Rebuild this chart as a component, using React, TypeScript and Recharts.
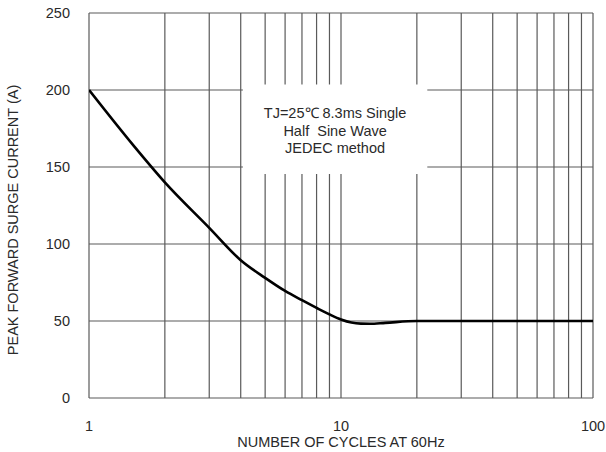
import { LineChart, Line, XAxis, YAxis, CartesianGrid, ReferenceArea, Label } from 'recharts';

// surge curve
const cycles = [1, 1.5, 2, 3, 4, 5, 6, 7, 8, 9, 10, 11, 12, 13, 15, 20, 30, 50, 100];
const current = [200, 164, 140, 110.5, 89.5, 78, 69.5, 63.5, 58.5, 54.3, 51, 49, 48.3, 48.2, 48.8, 50, 50, 50, 50];

const xGrid = [1, 2, 3, 4, 5, 6, 7, 8, 9, 10, 20, 30, 40, 50, 60, 70, 80, 90, 100];
const xLabels = [1, 10, 100];
const yTicks = [0, 50, 100, 150, 200, 250];

const noteLines = ['TJ=25\u2103 8.3ms Single', 'Half  Sine Wave', 'JEDEC method'];
// white box behind the note, in data units
const noteX = [4.08, 22];
const noteY = [145.5, 203.5];

const FONT = '"Liberation Sans", Arial, sans-serif';
const TEXT = '#2a2a2a';

const data = cycles.map((c, i) => ({ cycles: c, current: current[i] }));

function NoteLabel(props: any) {
  const vb = props.viewBox || {};
  const cx = vb.x + vb.width / 2;
  const cy = vb.y + vb.height / 2;
  const offs = [-16.5, 2, 19];
  return (
    <text textAnchor="middle" fontFamily={FONT} fontSize={14.5} fill={TEXT}>
      {noteLines.map((t, i) => (
        <tspan key={i} x={cx} y={cy + offs[i]} dominantBaseline="central" style={{ whiteSpace: 'pre' }}>
          {t}
        </tspan>
      ))}
    </text>
  );
}

function XTitle(props: any) {
  const vb = props.viewBox || {};
  return (
    <text x={vb.x + vb.width / 2} y={vb.y + 49} textAnchor="middle" fontFamily={FONT} fontSize={14.5} fill={TEXT}>
      NUMBER OF CYCLES AT 60Hz
    </text>
  );
}

function YTitle(props: any) {
  const vb = props.viewBox || {};
  const x = vb.x + 13.3;
  const y = vb.y + vb.height / 2 + 14.5;
  return (
    <text
      x={x}
      y={y}
      transform={`rotate(-90 ${x} ${y})`}
      textAnchor="middle"
      dominantBaseline="central"
      fontFamily={FONT}
      fontSize={14.5}
      fill={TEXT}
    >
      PEAK FORWARD SURGE CURRENT (A)
    </text>
  );
}

export default function App() {
  return (
    <div style={{ position: 'absolute', left: 0, top: 0, width: 606, height: 452, background: '#fff' }}>
      <LineChart width={606} height={452} data={data} margin={{ top: 13, right: 13, bottom: 0, left: 0 }}>
        <CartesianGrid stroke="#5a5a5a" strokeWidth={1.2} />
        <XAxis
          dataKey="cycles"
          type="number"
          scale="log"
          domain={[1, 100]}
          ticks={xGrid}
          interval={0}
          tickFormatter={(v: number) => (xLabels.includes(v) ? String(v) : '')}
          axisLine={false}
          tickLine={false}
          tickSize={0}
          tickMargin={22.4}
          height={54}
          tick={{ fontFamily: FONT, fontSize: 14.5, fill: TEXT }}
          allowDataOverflow
        >
          <Label content={<XTitle />} />
        </XAxis>
        <YAxis
          type="number"
          domain={[0, 250]}
          ticks={yTicks}
          interval={0}
          axisLine={false}
          tickLine={false}
          tickSize={0}
          tickMargin={19}
          width={89}
          tick={{ fontFamily: FONT, fontSize: 14.5, fill: TEXT }}
        >
          <Label content={<YTitle />} />
        </YAxis>
        <ReferenceArea
          x1={noteX[0]}
          x2={noteX[1]}
          y1={noteY[0]}
          y2={noteY[1]}
          fill="#ffffff"
          fillOpacity={1}
          stroke="none"
          label={<NoteLabel />}
        />
        <Line
          type="monotone"
          dataKey="current"
          stroke="#000"
          strokeWidth={2.6}
          dot={false}
          isAnimationActive={false}
        />
      </LineChart>
    </div>
  );
}
